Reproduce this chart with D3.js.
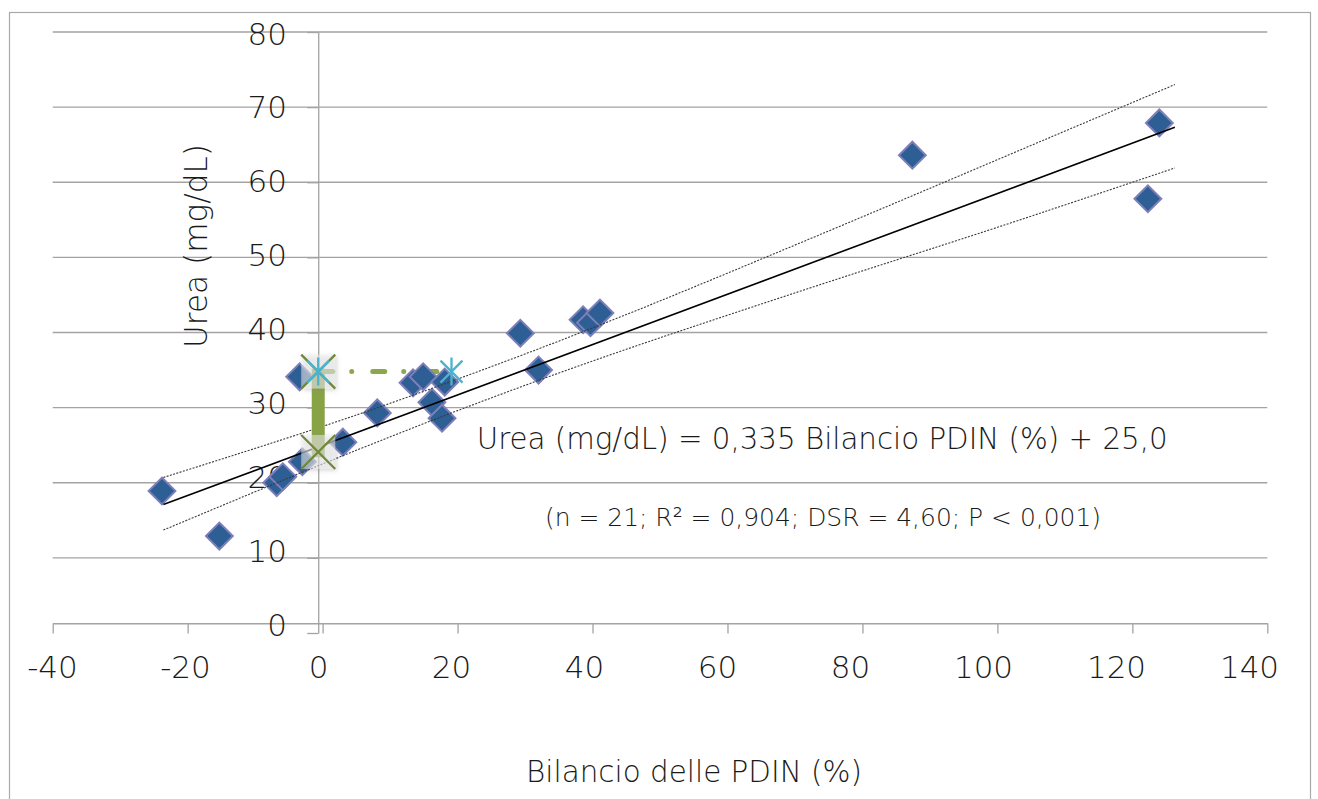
<!DOCTYPE html>
<html>
<head>
<meta charset="utf-8">
<script src="https://cdn.jsdelivr.net/npm/d3@7"></script>
<style>
  html, body { margin: 0; padding: 0; background: #ffffff; }
  svg { display: block; }
  text { font-family: "DejaVu Sans", sans-serif; font-weight: 200; fill: #1a1a1a; }
</style>
</head>
<body>
<svg id="chart" width="1318" height="799"></svg>
<script>
// Urea in plasma vs. PDIN balance, with regression line and confidence bands
const xTicks = [-40, -20, 0, 20, 40, 60, 80, 100, 120, 140];
const yTicks = [0, 10, 20, 30, 40, 50, 60, 70, 80];

// Observations (n = 21)
const bilancio = [-23.8, -15.3, -6.8, -5.9, -3.0, 3.0, -3.4, 8.1, 13.4, 14.9, 18.1,
                  16.2, 17.7, 29.3, 32.0, 38.6, 39.7, 41.1, 87.4, 124.0, 122.3];
const urea     = [18.9, 12.9, 20.0, 20.8, 22.8, 25.4, 34.1, 29.3, 33.3, 34.1, 33.4,
                  30.7, 28.6, 39.9, 35.0, 41.7, 41.3, 42.6, 63.6, 67.9, 57.8];

// Regression
const fitSlope = 0.335;
const fitIntercept = 25.0;
const fitRange = [-23.6, 126.3];

// Confidence band of the regression
const bandX     = [-23.6, 0, 20, 40, 60, 80, 100, 126.3];
const bandUpper = [20.7, 27.5, 33.8, 40.6, 47.9, 55.4, 63.0, 73.0];
const bandLower = [13.7, 22.5, 29.6, 36.2, 42.3, 48.2, 54.0, 61.9];

// Highlight: reading at balance 0 and at the matching balance level
const markX = [-0.65, 19.1];
const markLevel = 34.8;
const markLow = 24.1;
const barRange = [23.4, 35.2];

// Where the drawn axes cross each other
const yAxisAt = -0.65;
const xAxisAt = 1.3;

const equation = "Urea (mg/dL) = 0,335 Bilancio PDIN (%) + 25,0";
const stats = "(n = 21; R² = 0,904; DSR = 4,60; P < 0,001)";
const xTitle = "Bilancio delle PDIN (%)";
const yTitle = "Urea (mg/dL)";

const svg = d3.select("#chart");

const x = d3.scaleLinear().domain([-40, 140]).range([52.7, 1267.3]);
const y = d3.scaleLinear().domain([0, 80]).range([633, 32]);
// tick label placement
const xLab = d3.scaleLinear().domain([-40, 140]).range([52.5, 1249.5]);
const yLab = d3.scaleLinear().domain([0, 80]).range([624.6, 33]);

const defs = svg.append("defs");
const sh = defs.append("filter").attr("id", "boxShadow")
  .attr("x", "-50%").attr("y", "-50%").attr("width", "200%").attr("height", "200%");
sh.append("feDropShadow").attr("dx", 1.5).attr("dy", 1.5).attr("stdDeviation", 2)
  .attr("flood-color", "#777").attr("flood-opacity", 0.6);

// outer frame
svg.append("rect").attr("x", 9.5).attr("y", 12.5).attr("width", 1301).attr("height", 800)
  .attr("fill", "#fff").attr("stroke", "#a9a9a9").attr("stroke-width", 1.2);

// horizontal gridlines
svg.append("g").selectAll("line").data(yTicks.filter(d => d > 0)).join("line")
  .attr("x1", x(-40)).attr("x2", x(140))
  .attr("y1", d => y(d)).attr("y2", d => y(d))
  .attr("stroke", "#a3a3a3").attr("stroke-width", 1.3);

// x axis
const gx = svg.append("g").attr("transform", `translate(0,${y(xAxisAt)})`)
  .call(d3.axisBottom(x).tickValues(xTicks).tickSize(y(0) - y(xAxisAt) + 0.5)
    .tickSizeOuter(0).tickFormat(""));
gx.selectAll("path,line").attr("stroke", "#a3a3a3").attr("stroke-width", 1.3);

// y axis
const gy = svg.append("g").attr("transform", `translate(${x(yAxisAt)},0)`)
  .call(d3.axisLeft(y).tickValues(yTicks).tickSize(11).tickSizeOuter(0).tickFormat(""));
gy.selectAll("path,line").attr("stroke", "#a3a3a3").attr("stroke-width", 1.3);

// tick labels
svg.append("g").selectAll("text").data(xTicks).join("text")
  .attr("x", d => xLab(d)).attr("y", 678)
  .attr("text-anchor", "middle").attr("font-size", 31)
  .text(d => d);
svg.append("g").selectAll("text").data(yTicks).join("text")
  .attr("x", 287).attr("y", d => yLab(d) + 11.5)
  .attr("text-anchor", "end").attr("font-size", 31)
  .text(d => d);

// dash-dot connector
svg.append("line")
  .attr("x1", x(markX[0]) + 2.5).attr("x2", x(markX[1]))
  .attr("y1", y(markLevel)).attr("y2", y(markLevel))
  .attr("stroke", "#8ba84e").attr("stroke-width", 5).attr("stroke-linecap", "round")
  .attr("stroke-dasharray", "12,19,0.01,21");

// observations
svg.append("g").selectAll("path").data(bilancio.map((b, i) => [b, urea[i]])).join("path")
  .attr("d", d3.symbol(d3.symbolSquare, 360)())
  .attr("transform", d => `translate(${x(d[0])},${y(d[1])}) rotate(45)`)
  .attr("fill", "#2d5e94").attr("stroke", "#7d7fba").attr("stroke-width", 2);

// confidence band
const band = d3.line().x(d => x(d[0])).y(d => y(d[1])).curve(d3.curveNatural);
[bandUpper, bandLower].forEach(arr => {
  svg.append("path").attr("d", band(bandX.map((b, i) => [b, arr[i]])))
    .attr("fill", "none").attr("stroke", "#3a3a3a").attr("stroke-width", 1.1)
    .attr("stroke-dasharray", "2,1.4");
});

// regression line
svg.append("line")
  .attr("x1", x(fitRange[0])).attr("y1", y(fitIntercept + fitSlope * fitRange[0]))
  .attr("x2", x(fitRange[1])).attr("y2", y(fitIntercept + fitSlope * fitRange[1]))
  .attr("stroke", "#000").attr("stroke-width", 1.6);

// vertical bar at balance 0
svg.append("rect")
  .attr("x", x(markX[0]) - 6.5).attr("width", 13)
  .attr("y", y(barRange[1])).attr("height", y(barRange[0]) - y(barRange[1]))
  .attr("fill", "#88a346");

// cross markers with their shaded boxes
[markLevel, markLow].forEach(v => {
  const cx = x(markX[0]), cy = y(v), h = 17;
  svg.append("rect").attr("x", cx - h).attr("y", cy - h).attr("width", 2 * h).attr("height", 2 * h)
    .attr("fill", "#f2f2f2").attr("fill-opacity", 0.5).attr("filter", "url(#boxShadow)");
  svg.append("path")
    .attr("d", `M${cx - h},${cy - h}L${cx + h},${cy + h}M${cx - h},${cy + h}L${cx + h},${cy - h}`)
    .attr("stroke", "#71883a").attr("stroke-width", 2.3).attr("fill", "none");
});

// asterisk markers
markX.forEach(mx => {
  const cx = x(mx), cy = y(markLevel), h = 14, d = 11;
  svg.append("path")
    .attr("d", `M${cx},${cy - h}L${cx},${cy + h}M${cx - d},${cy - d}L${cx + d},${cy + d}M${cx - d},${cy + d}L${cx + d},${cy - d}`)
    .attr("stroke", "#4bb3cf").attr("stroke-width", 2.3).attr("fill", "none");
});

// text fitted to a given width
function fit(sel, w) {
  const fs = parseFloat(sel.attr("font-size"));
  const len = sel.node().getComputedTextLength();
  sel.attr("font-size", (fs * w / len).toFixed(2));
  return sel;
}

fit(svg.append("text").attr("x", 476.7).attr("y", 449).attr("font-size", 30).text(equation), 691);
fit(svg.append("text").attr("x", 545).attr("y", 526).attr("font-size", 26).text(stats), 556);
fit(svg.append("text").attr("x", 694).attr("y", 782).attr("text-anchor", "middle")
  .attr("font-size", 30).text(xTitle), 336);
fit(svg.append("text").attr("transform", "translate(207,246) rotate(-90)")
  .attr("text-anchor", "middle").attr("font-size", 30).text(yTitle), 204);
</script>
</body>
</html>
